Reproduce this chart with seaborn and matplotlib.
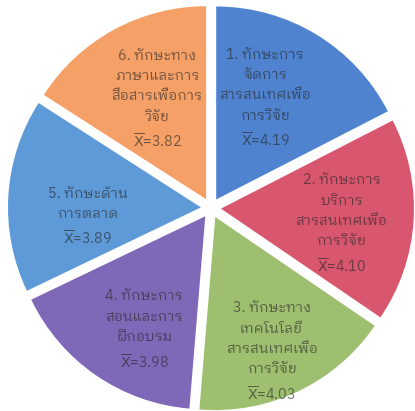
import numpy as np
import matplotlib
matplotlib.use("Agg")
import matplotlib.pyplot as plt
import seaborn as sns

# Research-information skill areas and their mean scores
skills = [
    "1. ทักษะการ\nจัดการ\nสารสนเทศเพื่อ\nการวิจัย",
    "2. ทักษะการ\nบริการ\nสารสนเทศเพื่อ\nการวิจัย",
    "3. ทักษะทาง\nเทคโนโลยี\nสารสนเทศเพื่อ\nการวิจัย",
    "4. ทักษะการ\nสอนและการ\nฝึกอบรม",
    "5. ทักษะด้าน\nการตลาด",
    "6. ทักษะทาง\nภาษาและการ\nสื่อสารเพื่อการ\nวิจัย",
]
means = [4.19, 4.10, 4.03, 3.98, 3.89, 3.82]
slice_colors = ["#4f83d0", "#d9576e", "#9fbf70", "#8068b8", "#5e9ad8", "#f5a066"]

# label placement inside each wedge: distance from the wedge centre
# (in radii) and a small angular shift from the wedge's bisector (deg)
label_dist = [0.58, 0.63, 0.76, 0.67, 0.59, 0.575]
label_shift = [5.5, -3.9, -2.9, 6.4, 8.6, -2.4]

sns.set_theme(style="white")
plt.rcParams["font.family"] = ["IBM Plex Sans Thai Looped", "Sarabun", "DejaVu Sans"]
plt.rcParams["mathtext.fontset"] = "dejavusans"

fig = plt.figure(figsize=(4.15, 4.11), dpi=100)
ax = fig.add_axes([0, 0, 1, 1])

labels = [rf"{name}" + "\n" + r"$\overline{\mathrm{X}}$" + f"={m:.2f}"
          for name, m in zip(skills, means)]
wedges, _ = ax.pie(
    means,
    colors=sns.color_palette(slice_colors),
    startangle=90,
    counterclock=False,
    explode=[0.052] * len(means),
    wedgeprops=dict(linewidth=0),
)

for w, lab, d, s in zip(wedges, labels, label_dist, label_shift):
    mid = np.deg2rad((w.theta1 + w.theta2) / 2 + s)
    cx, cy = w.center
    ax.text(cx + d * np.cos(mid), cy + d * np.sin(mid), lab,
            ha="center", va="center", multialignment="center",
            fontsize=10.3, color="#262626", alpha=0.62, linespacing=1.58)

ax.set_xlim(-1.093, 1.057)
ax.set_ylim(-1.052, 1.078)
ax.set_aspect("equal")
ax.axis("off")

fig.savefig("out.png", dpi=100, facecolor="white")
